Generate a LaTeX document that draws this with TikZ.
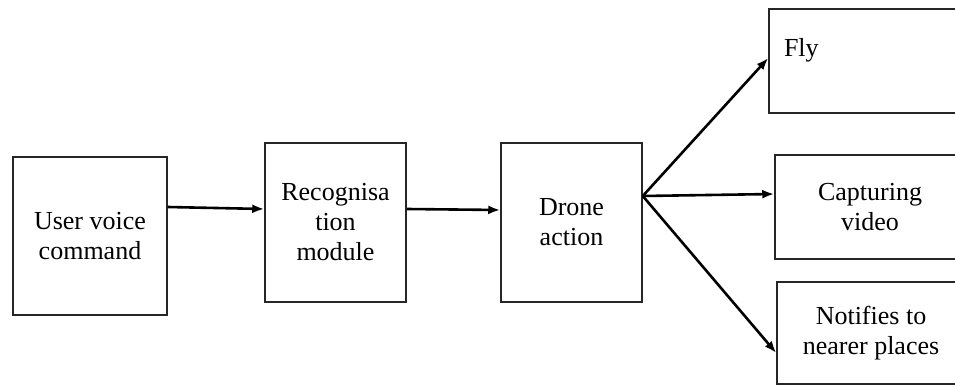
\documentclass[tikz,border=0pt]{standalone}
\usepackage{fontspec}
\setmainfont{Liberation Serif}
\usetikzlibrary{arrows.meta}
\tikzset{
  blockbox/.style={draw=black!85,line width=1.5pt,align=center,inner sep=0pt,
    font=\fontsize{26}{30}\selectfont},
  flowarrow/.style={line width=2.6pt,-{Latex[length=12pt,width=9pt]}}
}

\begin{document}
\begin{tikzpicture}[x=1pt,y=-1pt]
      \useasboundingbox (0,0) rectangle (955,385);
      % main chain
      \node[blockbox,minimum width=154,minimum height=158] (user) at (90,236) {User voice\\command};
      \node[blockbox,minimum width=141,minimum height=159] (recog) at (335.5,222.5) {Recognisa\\tion\\module};
      \node[blockbox,minimum width=141,minimum height=159] (drone) at (571.5,222.5) {Drone\\action};

      % outputs (cut at the right edge)
      \node[blockbox,minimum width=206,minimum height=104,text width=176,align=left,
        text height=18pt,text depth=26pt] (fly) at (872,61) {Fly};
      \node[blockbox,minimum width=190,minimum height=104] (capture) at (870,207) {Capturing\\video};
      \node[blockbox,minimum width=188,minimum height=102] (notify) at (871,333) {Notifies to\\nearer places};

      \draw[flowarrow] ([yshift=29pt]user.east) -- ([yshift=13.5pt]recog.west);
      \draw[flowarrow] ([yshift=13.5pt]recog.east) -- ([yshift=12.5pt]drone.west);

      \coordinate (split) at ([yshift=26.5pt]drone.east);
      \draw[flowarrow] (split) -- ([yshift=3pt]fly.west);
      \draw[flowarrow] (split) -- ([yshift=13pt]capture.west);
      \draw[flowarrow] (split) -- ([yshift=-20pt]notify.west);
\end{tikzpicture}
\end{document}
